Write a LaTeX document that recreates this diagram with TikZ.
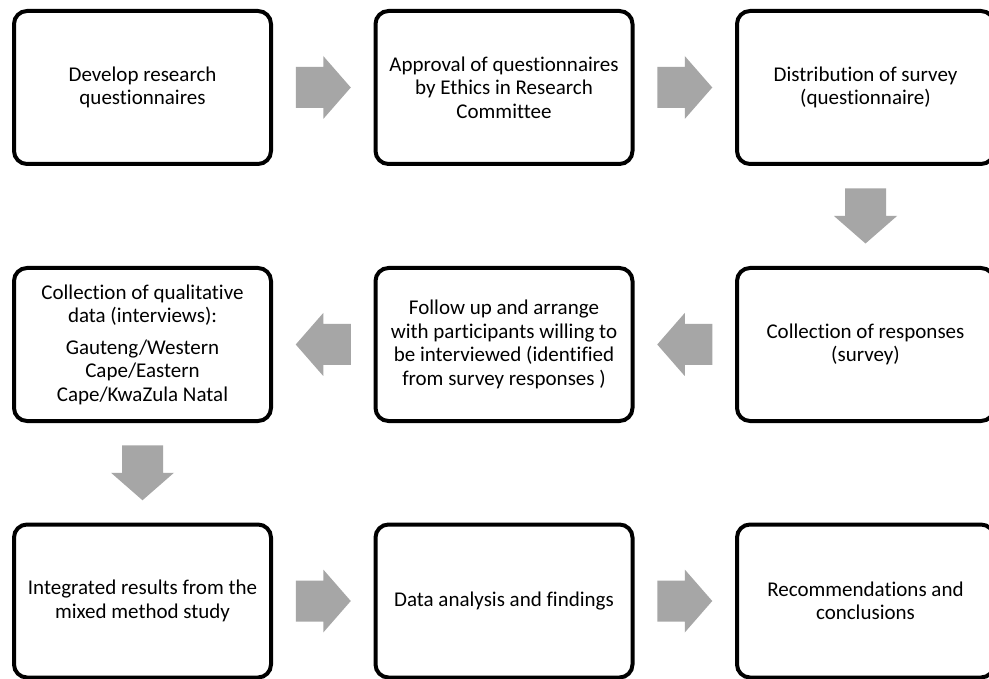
\documentclass[tikz,border=0pt]{standalone}
\usepackage{fontspec}
\setmainfont{Carlito}[Ligatures=NoCommon]
\usetikzlibrary{calc}
\definecolor{arrowgray}{HTML}{A6A6A6}
\tikzset{
  stepbox/.style={draw=black, line width=4pt, rounded corners=13pt,
    minimum width=257pt, minimum height=153pt, align=center, inner sep=0pt,
    font=\fontsize{21}{23.5}\selectfont},
  arrowfill/.style={fill=arrowgray, draw=none}
}
% block arrow placed halfway between two anchors, turned by #3 degrees
\newcommand\blockarrow[3]{%
  \begin{scope}[shift={($(#1)!0.5!(#2)$)}, rotate=#3]
    \fill[arrowfill] (-27.5,-20.5) -- (0,-20.5) -- (0,-31.5) -- (27.5,0)
      -- (0,31.5) -- (0,20.5) -- (-27.5,20.5) -- cycle;
  \end{scope}}
\begin{document}
\begin{tikzpicture}[x=1pt, y=-1pt]
  \clip (0,0) rectangle (989,679);
  \fill[white] (0,0) rectangle (989,679);

  % top row
  \node[stepbox] (b1) at (142.5,87.5) {Develop research\\questionnaires};
  \node[stepbox] (b2) at (504,87.5) {Approval of questionnaires\\by Ethics in Research\\Committee};
  \node[stepbox] (b3) at (865.5,87.5) {Distribution of survey\\(questionnaire)};

  % middle row
  \node[stepbox] (b4) at (865.5,344.5) {Collection of responses\\(survey)};
  \node[stepbox] (b5) at (504,344.5) {Follow up and arrange\\with participants willing to\\be interviewed (identified\\from survey responses )};
  \node[stepbox] (b6) at (142.5,344.5) {Collection of qualitative\\data (interviews):\\[8pt]Gauteng/Western\\Cape/Eastern\\Cape/KwaZula Natal};

  % bottom row
  \node[stepbox] (b7) at (142.5,601) {Integrated results from the\\mixed method study};
  \node[stepbox] (b8) at (504,601) {Data analysis and findings};
  \node[stepbox] (b9) at (865.5,601) {Recommendations and\\conclusions};

  % flow arrows
  \blockarrow{b1.east}{b2.west}{0}
  \blockarrow{b2.east}{b3.west}{0}
  \blockarrow{b3.south}{b4.north}{-90}
  \blockarrow{b4.west}{b5.east}{180}
  \blockarrow{b5.west}{b6.east}{180}
  \blockarrow{b6.south}{b7.north}{-90}
  \blockarrow{b7.east}{b8.west}{0}
  \blockarrow{b8.east}{b9.west}{0}
\end{tikzpicture}
\end{document}
